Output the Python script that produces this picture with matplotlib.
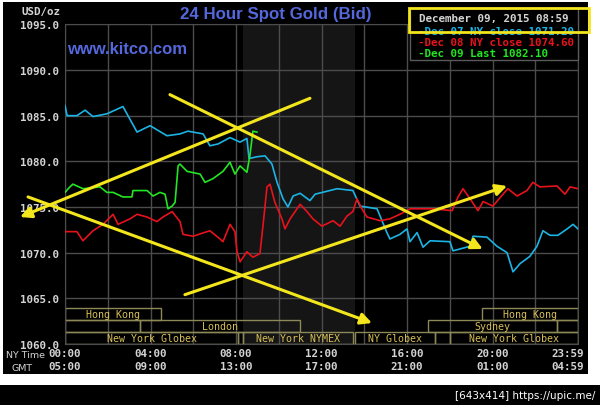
import matplotlib
matplotlib.use('Agg')
import matplotlib.pyplot as plt
from matplotlib.patches import Rectangle

# ---------------- data ----------------
dec07_hours = [0, 0.1, 0.56, 0.94, 1.31, 1.96, 2.34, 2.71, 3.04, 3.37, 3.98, 4.77, 5.38, 5.75,
               6.46, 6.78, 7.16, 7.72, 8.19, 8.51, 8.61, 8.98, 9.36, 9.68, 9.92, 10.2, 10.43,
               10.67, 11.0, 11.46, 11.7, 12.73, 13.47, 13.8, 14.6, 15.06, 15.2, 15.67, 16.0,
               16.14, 16.47, 16.75, 17.08, 18.01, 18.15, 18.95, 19.09, 19.74, 20.21, 20.68,
               20.96, 21.29, 21.75, 22.08, 22.36, 22.69, 23.06, 23.49, 23.77, 24.0]
dec07_price = [1086.1, 1085.0, 1085.0, 1085.6, 1084.9, 1085.2, 1085.6, 1086.0, 1084.6, 1083.2,
               1083.9, 1082.8, 1083.0, 1083.3, 1083.0, 1081.7, 1081.9, 1082.6, 1082.1, 1082.5,
               1080.3, 1080.5, 1080.6, 1079.7, 1077.7, 1075.9, 1075.0, 1076.2, 1076.5, 1075.7,
               1076.4, 1077.0, 1076.8, 1075.1, 1074.8, 1072.2, 1071.5, 1072.0, 1072.6, 1071.2,
               1072.2, 1070.6, 1071.3, 1071.2, 1070.2, 1070.7, 1071.8, 1071.7, 1070.7, 1070.0,
               1067.9, 1068.8, 1069.6, 1070.7, 1072.4, 1071.9, 1071.9, 1072.6, 1073.1, 1072.6]

dec08_hours = [0, 0.56, 0.84, 1.31, 1.78, 2.25, 2.48, 3.04, 3.37, 3.84, 4.3, 4.58, 5.01, 5.38,
               5.52, 5.99, 6.78, 7.25, 7.39, 7.72, 7.95, 8.05, 8.19, 8.51, 8.79, 9.12, 9.26,
               9.45, 9.59, 9.82, 10.15, 10.29, 10.53, 11.0, 11.32, 11.6, 12.02, 12.54, 12.87,
               13.19, 13.47, 13.66, 13.89, 14.13, 14.74, 15.2, 15.67, 16.14, 17.22, 18.11,
               18.39, 18.62, 18.95, 19.32, 19.56, 20.02, 20.49, 20.72, 21.15, 21.61, 21.89,
               22.22, 23.02, 23.39, 23.63, 24.0]
dec08_price = [1072.3, 1072.3, 1071.3, 1072.4, 1073.1, 1074.2, 1073.1, 1073.7, 1074.2, 1073.9,
               1073.4, 1073.9, 1074.5, 1073.4, 1072.0, 1071.8, 1072.4, 1071.5, 1071.2, 1073.1,
               1072.3, 1070.1, 1069.0, 1070.1, 1069.5, 1069.9, 1072.9, 1077.2, 1077.5, 1075.5,
               1073.7, 1072.6, 1073.7, 1075.3, 1074.5, 1073.7, 1072.9, 1073.5, 1072.9, 1074.0,
               1074.5, 1075.9, 1074.8, 1073.9, 1073.5, 1073.7, 1074.2, 1074.8, 1074.8, 1074.6,
               1076.1, 1077.0, 1075.9, 1074.6, 1075.6, 1075.1, 1076.4, 1077.0, 1076.2, 1076.8,
               1077.7, 1077.2, 1077.3, 1076.4, 1077.2, 1077.0]

dec09_hours = [0, 0.23, 0.37, 0.84, 1.64, 1.96, 2.25, 2.71, 3.13, 3.18, 3.84, 4.12, 4.44, 4.68,
               4.82, 5.01, 5.15, 5.29, 5.38, 5.71, 6.32, 6.55, 6.92, 7.39, 7.72, 7.95, 8.19,
               8.51, 8.65, 8.79, 8.98]
dec09_price = [1076.6, 1077.2, 1077.5, 1077.0, 1077.2, 1076.6, 1076.6, 1076.1, 1076.1, 1076.8,
               1076.8, 1076.2, 1076.6, 1076.4, 1074.8, 1075.1, 1075.5, 1079.5, 1079.7, 1078.9,
               1078.6, 1077.7, 1078.1, 1078.9, 1079.9, 1078.6, 1079.5, 1078.8, 1080.6, 1083.3,
               1083.2]

legend_labels = ["Dec 07 NY close 1071.20", "Dec 08 NY close 1074.60", "Dec 09 Last 1082.10"]
date_label = "December 09, 2015 08:59"

y_ticks = [1060, 1065, 1070, 1075, 1080, 1085, 1090, 1095]
y_tick_labels = ["1060.0", "1065.0", "1070.0", "1075.0", "1080.0", "1085.0", "1090.0", "1095.0"]
x_label_hours = [0, 4, 8, 12, 16, 20, 23.5]
ny_time_labels = ["00:00", "04:00", "08:00", "12:00", "16:00", "20:00", "23:59"]
gmt_time_labels = ["05:00", "09:00", "13:00", "17:00", "21:00", "01:00", "04:59"]

nymex_start, nymex_end = 8.33, 13.55

session_names = ["Hong Kong", "Hong Kong", "", "London", "Sydney", "",
                 "New York Globex", "", "New York NYMEX", "NY Globex", "", "New York Globex"]
session_rows = [0, 0, 1, 1, 1, 1, 2, 2, 2, 2, 2, 2]
session_starts = [0, 19.5, 0, 3.5, 17.0, 23.0, 0, 8.1, 8.33, 13.55, 17.3, 18.0]
session_ends = [4.5, 24, 3.5, 11.0, 23.0, 24, 8.1, 8.33, 13.47, 17.3, 18.0, 24]

# hand-drawn trend arrows: (start hour, start price, tip hour, tip price)
arrow_start_h = [4.91, 11.46, -1.73, 5.61]
arrow_start_p = [1087.3, 1086.9, 1076.1, 1065.4]
arrow_tip_h = [19.54, -2.1, 14.36, 20.68]
arrow_tip_p = [1070.4, 1073.9, 1062.3, 1077.3]

# ---------------- styling ----------------
W, H = 600, 406
fig = plt.figure(figsize=(6, 4.06), dpi=100, facecolor='white')

def fx(x):
    return x / W

def fy(y):
    return 1 - y / H

mono = 'DejaVu Sans Mono'
lab_col = '#d4d4d4'
cyan, red, green = '#1cb4e4', '#e8121c', '#22e622'
yellow = '#f4e61c'
sess_col = '#d8c058'
sess_edge = '#8c8858'
grid_col = '#4c4c4c'

# black panel and bottom bar
fig.add_artist(Rectangle((fx(3), fy(375)), fx(585), 372 / H, transform=fig.transFigure,
                         facecolor='black', edgecolor='none', zorder=-10))
fig.add_artist(Rectangle((0, 0), 1, 20 / H, transform=fig.transFigure,
                         facecolor='black', edgecolor='none', zorder=-10))

ax = fig.add_axes([fx(65), fy(345), fx(578) - fx(65), (345 - 25.3) / H])
ax.set_facecolor('black')
ax.set_xlim(0, 24)
ax.set_ylim(1060, 1095)

ax.axvspan(nymex_start, nymex_end, color='#151515', zorder=0, lw=0)

for h in range(0, 25, 2):
    ax.axvline(h, color=grid_col, lw=1.0, zorder=1)
for v in y_ticks:
    ax.axhline(v, color=grid_col, lw=1.0, zorder=1)
for s in ax.spines.values():
    s.set_color(grid_col)

ax.set_yticks(y_ticks, labels=y_tick_labels)
ax.set_xticks(x_label_hours, labels=[f"{a}\n{b}" for a, b in zip(ny_time_labels, gmt_time_labels)])
ax.tick_params(length=0, colors=lab_col)
for t in ax.get_yticklabels():
    t.set_fontfamily(mono); t.set_fontweight('bold'); t.set_fontsize(7.8)
ax.tick_params(axis='y', pad=4)
ax.tick_params(axis='x', pad=3)
for t in ax.get_xticklabels():
    t.set_fontfamily(mono); t.set_fontweight('bold'); t.set_fontsize(7.8)
    t.set_linespacing(1.3)

# session boxes
row_h = 1.3
for name, r, s0, s1 in zip(session_names, session_rows, session_starts, session_ends):
    y0 = 1060.05 + (2 - r) * row_h
    ax.add_patch(Rectangle((s0, y0), s1 - s0, row_h, facecolor='none',
                           edgecolor=sess_edge, lw=1.0, zorder=2))
    if name:
        ax.text((s0 + s1) / 2, y0 + row_h / 2, name, color=sess_col, fontsize=7.2,
                fontfamily=mono, ha='center', va='center', zorder=3)

# series
ax.plot(dec07_hours, dec07_price, color=cyan, lw=1.2, zorder=4)
ax.plot(dec08_hours, dec08_price, color=red, lw=1.2, zorder=4)
ax.plot(dec09_hours, dec09_price, color=green, lw=1.2, zorder=4)

# trend arrows
for sh, sp, th, tp in zip(arrow_start_h, arrow_start_p, arrow_tip_h, arrow_tip_p):
    ax.annotate('', xy=(th, tp), xytext=(sh, sp), annotation_clip=False,
                arrowprops=dict(arrowstyle='-|>,head_length=0.55,head_width=0.28',
                                color=yellow, lw=2.2, mutation_scale=12,
                                shrinkA=0, shrinkB=0, clip_on=False),
                zorder=6)

# titles
fig.text(fx(276), fy(15), "24 Hour Spot Gold (Bid)", color='#5468dc', fontsize=12.2,
         fontweight='bold', fontfamily='Liberation Sans', ha='center', va='center')
fig.text(fx(67), fy(50), "www.kitco.com", color='#5468dc', fontsize=12,
         fontweight='bold', fontfamily='Liberation Sans', ha='left', va='center')
fig.text(fx(60), fy(12), "USD/oz", color=lab_col, fontsize=7.8, fontfamily=mono,
         fontweight='bold', ha='right', va='center')
fig.text(fx(6), fy(356), "NY Time", color=lab_col, fontsize=6.8, ha='left', va='center')
fig.text(fx(22), fy(369), "GMT", color=lab_col, fontsize=6.8, ha='center', va='center')

# legend box
fig.add_artist(Rectangle((fx(410), fy(61)), fx(578) - fx(410), (61 - 9) / H,
                         transform=fig.transFigure, facecolor='black', edgecolor='#5a5a5a',
                         lw=1.0, zorder=8))
fig.text(fx(419), fy(19), date_label, color=lab_col, fontsize=7.8, fontfamily=mono,
         fontweight='bold', ha='left', va='center', zorder=9)
for lab, col, yy in zip(legend_labels, [cyan, red, green], [32, 43, 54]):
    fig.text(fx(418), fy(yy), "-" + lab, color=col, fontsize=7.8, fontfamily=mono,
             fontweight='bold', ha='left', va='center', zorder=9)
# yellow highlight
fig.add_artist(Rectangle((fx(409), fy(33)), fx(589) - fx(409), (33 - 9) / H,
                         transform=fig.transFigure, facecolor='none', edgecolor=yellow,
                         lw=2.0, zorder=10))

fig.text(fx(595), fy(396), "[643x414] https://upic.me/", color='white', fontsize=7.5,
         ha='right', va='center')

fig.savefig('out.png', dpi=100, facecolor='white')
